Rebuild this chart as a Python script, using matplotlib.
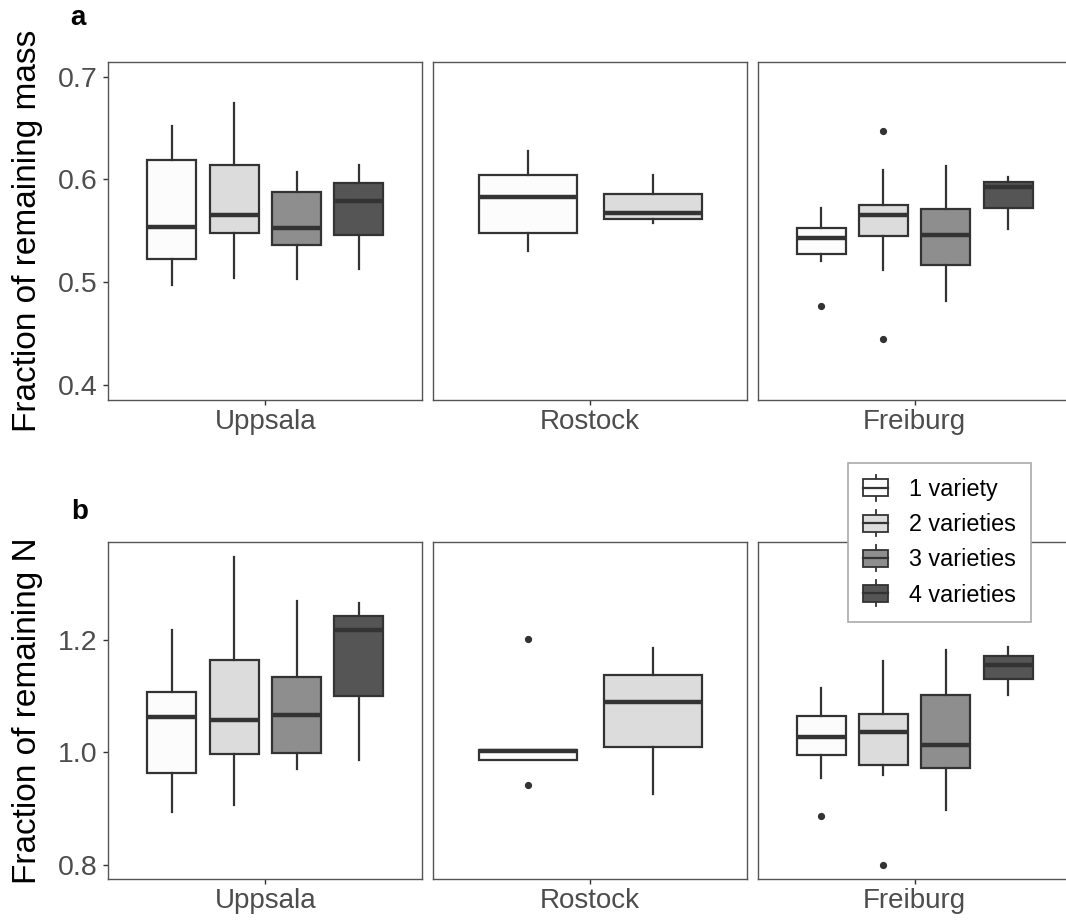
import matplotlib
matplotlib.use("Agg")
import matplotlib.pyplot as plt
from matplotlib.patches import Rectangle, Patch
from matplotlib.lines import Line2D
from matplotlib.legend_handler import HandlerBase

plt.rcParams['font.family'] = ['Liberation Sans', 'DejaVu Sans']

# ---------------- data ----------------
sites = ["Uppsala", "Rostock", "Freiburg"]
levels = ["1 variety", "2 varieties", "3 varieties", "4 varieties"]
fills = ["#FCFCFC", "#DCDCDC", "#8E8E8E", "#555555"]

# panel a: fraction of remaining mass
mass_whishi = {"Uppsala": [0.652, 0.674, 0.607, 0.614],
               "Rostock": [0.628, 0.604],
               "Freiburg": [0.572, 0.609, 0.613, 0.602]}
mass_q3 = {"Uppsala": [0.619, 0.614, 0.588, 0.597],
           "Rostock": [0.604, 0.586],
           "Freiburg": [0.553, 0.575, 0.571, 0.598]}
mass_med = {"Uppsala": [0.554, 0.565, 0.553, 0.579],
            "Rostock": [0.583, 0.567],
            "Freiburg": [0.543, 0.565, 0.546, 0.593]}
mass_q1 = {"Uppsala": [0.523, 0.548, 0.536, 0.546],
           "Rostock": [0.548, 0.562],
           "Freiburg": [0.528, 0.545, 0.517, 0.572]}
mass_whislo = {"Uppsala": [0.497, 0.504, 0.503, 0.513],
               "Rostock": [0.530, 0.558],
               "Freiburg": [0.521, 0.512, 0.482, 0.552]}
mass_fliers = {"Uppsala": [[], [], [], []],
               "Rostock": [[], []],
               "Freiburg": [[0.477], [0.647, 0.445], [], []]}

# panel b: fraction of remaining N
n_whishi = {"Uppsala": [1.217, 1.348, 1.269, 1.266],
            "Rostock": [1.004, 1.185],
            "Freiburg": [1.114, 1.163, 1.182, 1.187]}
n_q3 = {"Uppsala": [1.108, 1.164, 1.134, 1.242],
        "Rostock": [1.004, 1.138],
        "Freiburg": [1.064, 1.068, 1.102, 1.172]}
n_med = {"Uppsala": [1.063, 1.057, 1.067, 1.218],
         "Rostock": [1.002, 1.090],
         "Freiburg": [1.028, 1.036, 1.014, 1.156]}
n_q1 = {"Uppsala": [0.963, 0.997, 0.999, 1.101],
        "Rostock": [0.987, 1.009],
        "Freiburg": [0.996, 0.978, 0.972, 1.130]}
n_whislo = {"Uppsala": [0.894, 0.907, 0.971, 0.986],
            "Rostock": [0.987, 0.927],
            "Freiburg": [0.954, 0.960, 0.898, 1.103]}
n_fliers = {"Uppsala": [[], [], [], []],
            "Rostock": [[1.201, 0.942], []],
            "Freiburg": [[0.887], [0.800], [], []]}

mass_ticks = [0.4, 0.5, 0.6, 0.7]
n_ticks = [0.8, 1.0, 1.2]

# ---------------- styling ----------------
LINE = "#333333"
TICKC = "#4D4D4D"
W, H = 1066, 921
fig = plt.figure(figsize=(W / 100, H / 100), dpi=100)

col_left = [108.3, 433.3, 757.7]
col_w = 314.0
rows = [(62.3, 400.0), (541.7, 879.3)]


def add_ax(col, row):
    x0 = col_left[col]
    top, bot = rows[row]
    return fig.add_axes([x0 / W, 1 - bot / H, col_w / W, (bot - top) / H])


def draw_panel(ax, site, whishi, q3, med, q1, whislo, fliers):
    n = len(med[site])
    slot = 0.954 / n
    bw = 0.75 / n
    pos = [(-(n - 1) / 2 + i) * slot for i in range(n)]
    stats = []
    for i in range(n):
        stats.append(dict(med=med[site][i], q1=q1[site][i], q3=q3[site][i],
                          whislo=whislo[site][i], whishi=whishi[site][i],
                          fliers=fliers[site][i]))
    bp = ax.bxp(stats, positions=pos, widths=bw, patch_artist=True,
                showcaps=False, manage_ticks=False,
                boxprops=dict(edgecolor=LINE, linewidth=1.6),
                medianprops=dict(color=LINE, linewidth=3.2, solid_capstyle='butt'),
                whiskerprops=dict(color=LINE, linewidth=1.6),
                flierprops=dict(marker='o', markersize=4.2, markerfacecolor=LINE,
                                markeredgecolor=LINE, linestyle='none'))
    for patch, fc in zip(bp['boxes'], fills):
        patch.set_facecolor(fc)
    ax.set_xlim(-0.6, 0.6)
    ax.set_xticks([0])
    ax.set_xticklabels([site])


panels = [
    (0, (0.3855, 0.714), mass_ticks, (mass_whishi, mass_q3, mass_med, mass_q1, mass_whislo, mass_fliers)),
    (1, (0.7745, 1.3748), n_ticks, (n_whishi, n_q3, n_med, n_q1, n_whislo, n_fliers)),
]

for row, ylim, yt, data in panels:
    for col, site in enumerate(sites):
        ax = add_ax(col, row)
        draw_panel(ax, site, *data)
        ax.set_ylim(*ylim)
        ax.set_yticks(yt)
        ax.set_yticklabels([f"{v:.1f}" for v in yt])
        for sp in ax.spines.values():
            sp.set_color("#555555")
            sp.set_linewidth(1.0)
        ax.tick_params(axis='x', labelsize=20, labelcolor=TICKC, color="#333333",
                       length=3.5, width=1.0, pad=3)
        ax.tick_params(axis='y', labelsize=20.5, labelcolor=TICKC, color="#333333",
                       length=3.5, width=1.0, pad=4.5)
        if col > 0:
            ax.tick_params(axis='y', left=False, labelleft=False)

# axis titles
fig.text(28 / W, 1 - (rows[0][0] + rows[0][1]) / 2 / H, "Fraction of remaining mass",
         rotation=90, ha='center', va='center', fontsize=24, color='black')
fig.text(28 / W, 1 - (rows[1][0] + rows[1][1]) / 2 / H, "Fraction of remaining N",
         rotation=90, ha='center', va='center', fontsize=24, color='black')

# panel tags
fig.text(78 / W, 1 - 18 / H, "a", ha='center', va='center', fontsize=20, fontweight='bold')
fig.text(80 / W, 1 - 512 / H, "b", ha='center', va='center', fontsize=20, fontweight='bold')


# legend with boxplot keys
class HandlerBox(HandlerBase):
    def create_artists(self, legend, orig_handle, xdescent, ydescent, width, height,
                       fontsize, trans):
        cx = width / 2 - xdescent
        cy = height / 2 - ydescent
        bh = 12.2
        wl = 18.7
        whisk = Line2D([cx, cx], [cy - wl / 2, cy + wl / 2], color=LINE, lw=1.3,
                       transform=trans)
        rect = Rectangle((-xdescent, cy - bh / 2), width, bh,
                         facecolor=orig_handle.get_facecolor(), edgecolor=LINE,
                         lw=1.3, transform=trans)
        medl = Line2D([-xdescent, -xdescent + width], [cy, cy], color=LINE, lw=1.6,
                      transform=trans)
        return [whisk, rect, medl]


handles = [Patch(facecolor=fc, edgecolor=LINE) for fc in fills]
leg = fig.legend(handles, levels, loc='upper left',
                 bbox_to_anchor=(847.7 / W, 1 - 462.7 / H), borderaxespad=0,
                 fontsize=16.8, frameon=True, fancybox=False,
                 handler_map={Patch: HandlerBox()},
                 handlelength=1.07, handleheight=0.73, handletextpad=0.88,
                 labelspacing=0.52, borderpad=0.66)
leg.get_frame().set_edgecolor("#AAAAAA")
leg.get_frame().set_linewidth(1.2)
leg.get_frame().set_facecolor("white")
leg.get_frame().set_alpha(1)

fig.savefig("out.png", dpi=100)
